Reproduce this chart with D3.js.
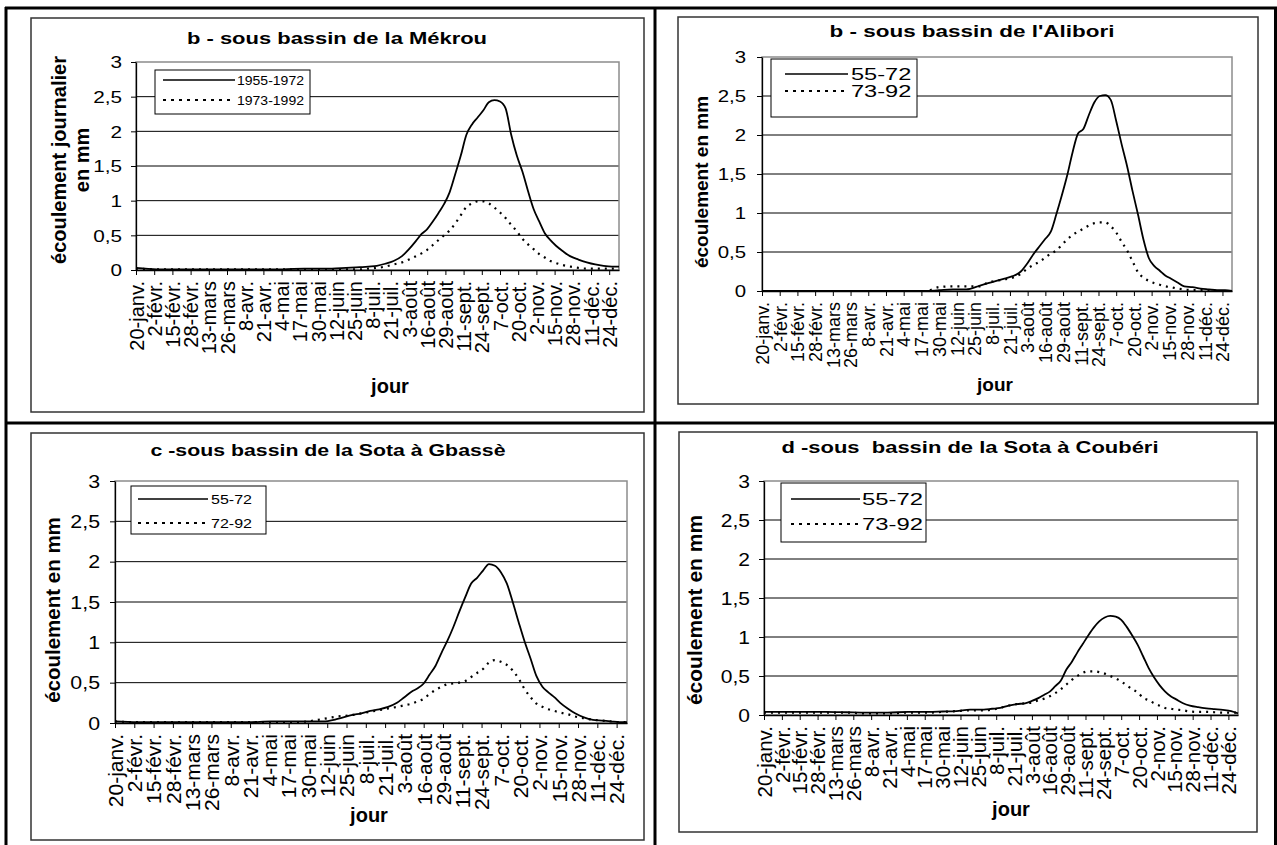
<!DOCTYPE html>
<html><head><meta charset="utf-8">
<script src="https://cdn.jsdelivr.net/npm/d3@7"></script>
<style>
body{margin:0;background:#fff}
svg{display:block}
text{font-family:"Liberation Sans",Arial,sans-serif;fill:#000}
</style>
</head><body>
<svg id="c" width="1277" height="845"></svg>
<script>
// ---------- DATA ----------
const dayGrid = [20,35,50,65,80,95,110,125,140,150,160,170,180,186,192,198,204,210,215,220,224,228,232,236,240,244,248,252,256,260,264,268,272,276,280,284,288,292,296,300,304,308,312,316,320,325,330,336,342,348,354,360,365];

const tickDays = [20,33,46,59,72,85,98,111,124,137,150,163,176,189,202,215,228,241,254,267,280,293,306,319,332,345,358];
const tickLabels = ["20-janv.","2-févr.","15-févr.","28-févr.","13-mars","26-mars","8-avr.","21-avr.","4-mai","17-mai","30-mai","12-juin","25-juin","8-juil.","21-juil.","3-août","16-août","29-août","11-sept.","24-sept.","7-oct.","20-oct.","2-nov.","15-nov.","28-nov.","11-déc.","24-déc."];
const yTicks = [0,0.5,1,1.5,2,2.5,3];

const titles = ["b - sous bassin de la Mékrou","b - sous bassin de l'Alibori","c -sous bassin de la Sota à Gbassè","d -sous  bassin de la Sota à Coubéri"];
const yTitles = [["écoulement journalier","en mm"],["écoulement en mm"],["écoulement en mm"],["écoulement en mm"]];
const legendNames = [["1955-1972","1973-1992"],["55-72","73-92"],["55-72","72-92"],["55-72","73-92"]];

const mekrouA = [0.03,0.01,0.01,0.01,0.01,0.01,0.01,0.01,0.02,0.02,0.02,0.03,0.04,0.05,0.06,0.09,0.13,0.2,0.3,0.42,0.52,0.59,0.7,0.82,0.95,1.12,1.38,1.65,1.95,2.1,2.2,2.3,2.42,2.45,2.43,2.33,1.95,1.65,1.42,1.14,0.88,0.7,0.53,0.43,0.35,0.27,0.2,0.15,0.11,0.08,0.06,0.05,0.05];
const mekrouB = [0.02,0.01,0.01,0.01,0.01,0.01,0.01,0.01,0.01,0.01,0.01,0.01,0.01,0.02,0.03,0.05,0.08,0.11,0.15,0.2,0.24,0.29,0.36,0.43,0.5,0.57,0.67,0.79,0.91,0.96,0.99,0.99,0.96,0.9,0.83,0.75,0.65,0.56,0.45,0.37,0.3,0.23,0.18,0.13,0.1,0.07,0.05,0.03,0.02,0.02,0.02,0.02,0.02];

const aliboriA = [0,0,0,0,0,0,0,0,0,0.01,0.02,0.02,0.07,0.1,0.13,0.16,0.19,0.25,0.36,0.49,0.58,0.67,0.76,0.98,1.22,1.48,1.78,2.02,2.08,2.26,2.42,2.5,2.51,2.45,2.18,1.88,1.6,1.28,0.98,0.66,0.42,0.32,0.26,0.2,0.16,0.11,0.06,0.05,0.03,0.02,0.01,0.01,0];
const aliboriB = [0,0,0,0,0,0,0,0,0,0.05,0.06,0.06,0.06,0.11,0.13,0.15,0.17,0.22,0.29,0.34,0.38,0.43,0.48,0.52,0.59,0.66,0.72,0.76,0.8,0.84,0.87,0.88,0.88,0.83,0.75,0.63,0.52,0.38,0.24,0.17,0.13,0.1,0.08,0.06,0.05,0.03,0.02,0.01,0.01,0.01,0,0,0];

const gbasseA = [0.02,0.01,0.01,0.01,0.01,0.01,0.01,0.02,0.02,0.02,0.02,0.05,0.1,0.12,0.15,0.17,0.2,0.25,0.32,0.39,0.43,0.49,0.6,0.71,0.87,1.02,1.19,1.38,1.56,1.73,1.8,1.89,1.97,1.95,1.87,1.73,1.5,1.25,1.01,0.8,0.58,0.45,0.38,0.32,0.25,0.18,0.12,0.07,0.04,0.03,0.02,0.01,0.01];
const gbasseB = [0.02,0.01,0.01,0.01,0.01,0.01,0.01,0.01,0.01,0.02,0.05,0.08,0.1,0.12,0.14,0.16,0.18,0.2,0.22,0.24,0.27,0.3,0.36,0.41,0.45,0.48,0.49,0.5,0.52,0.57,0.62,0.67,0.75,0.78,0.76,0.72,0.65,0.55,0.42,0.32,0.24,0.2,0.17,0.15,0.13,0.11,0.08,0.06,0.04,0.03,0.02,0.01,0.01];

const couberiA = [0.04,0.04,0.04,0.04,0.035,0.03,0.03,0.04,0.04,0.045,0.05,0.07,0.07,0.08,0.09,0.12,0.14,0.15,0.18,0.22,0.26,0.3,0.37,0.44,0.58,0.68,0.8,0.91,1.02,1.12,1.2,1.25,1.27,1.26,1.22,1.13,1.02,0.9,0.75,0.6,0.48,0.38,0.3,0.24,0.2,0.15,0.12,0.1,0.085,0.075,0.065,0.05,0.02];
const couberiB = [0.03,0.03,0.03,0.03,0.03,0.02,0.02,0.03,0.03,0.04,0.05,0.06,0.06,0.07,0.09,0.12,0.14,0.15,0.16,0.19,0.21,0.24,0.28,0.33,0.39,0.45,0.5,0.54,0.56,0.56,0.55,0.53,0.5,0.47,0.43,0.38,0.33,0.29,0.22,0.19,0.15,0.12,0.09,0.08,0.07,0.06,0.045,0.04,0.04,0.035,0.03,0.03,0.03];

const seriesByPanel = [[mekrouA,mekrouB],[aliboriA,aliboriB],[gbasseA,gbasseB],[couberiA,couberiB]];

// ---------- LAYOUT ----------
const layouts = [
 {box:[31,18,644,412], plot:[136,62,619,270], title:{x:337,y:44,size:17,len:300},
  ylab:{xs:[59,82],cy:160,size:20}, ytk:{size:17,k:1.22,gap:14}, xtk:{size:20,off:11},
  jour:{x:390,y:393,size:20}, leg:{box:[155,70,310,114],lx:[163,235],ly:[80,100],tx:237,size:12.5,k:1.12}},
 {box:[678,17,1258,404], plot:[762,57,1232,291], title:{x:972,y:37,size:17,len:285},
  ylab:{xs:[701],cy:182,size:19}, ytk:{size:17,k:1.2,gap:16}, xtk:{size:18,off:11},
  jour:{x:995,y:391,size:19}, leg:{box:[771,59,917,117],lx:[785,848],ly:[74,91],tx:851,size:16.5,k:1.43}},
 {box:[31,433,644,840], plot:[115,481,627,723], title:{x:328,y:456,size:17,len:355},
  ylab:{xs:[53],cy:610,size:20.5}, ytk:{size:17.5,k:1.22,gap:15}, xtk:{size:21,off:11},
  jour:{x:369,y:822,size:20}, leg:{box:[131,486,266,534],lx:[138,208],ly:[499,523],tx:211,size:12.5,k:1.28}},
 {box:[679,432,1257,832], plot:[764,481,1238,715], title:{x:970,y:453,size:17,len:377},
  ylab:{xs:[695],cy:610,size:21}, ytk:{size:17.5,k:1.2,gap:14}, xtk:{size:20.5,off:11},
  jour:{x:1011,y:816,size:20}, leg:{box:[781,483,926,542],lx:[791,860],ly:[499,524],tx:862,size:17,k:1.4}}
];

const svg = d3.select("#c");

function stretch(sel, k){
  sel.each(function(){
    const w = this.getComputedTextLength();
    this.setAttribute("textLength", w*k);
    this.setAttribute("lengthAdjust","spacingAndGlyphs");
  });
}

// table frame
const frame = svg.append("g").attr("stroke","#000").attr("stroke-width",3).attr("fill","none");
frame.append("line").attr("x1",5).attr("x2",1277).attr("y1",8).attr("y2",8);
frame.append("line").attr("x1",6).attr("x2",6).attr("y1",7).attr("y2",845);
frame.append("line").attr("x1",655).attr("x2",655).attr("y1",7).attr("y2",845);
frame.append("line").attr("x1",5).attr("x2",1277).attr("y1",423).attr("y2",423);
frame.append("line").attr("x1",1275.5).attr("x2",1275.5).attr("y1",7).attr("y2",845);

layouts.forEach((L,pi)=>{
  const g = svg.append("g");
  const [bx0,by0,bx1,by1] = L.box;
  g.append("rect").attr("x",bx0).attr("y",by0).attr("width",bx1-bx0).attr("height",by1-by0)
    .attr("fill","#fff").attr("stroke","#333").attr("stroke-width",1.5);

  const [px0,py0,px1,py1] = L.plot;
  const x = d3.scaleLinear().domain([20,365]).range([px0,px1]);
  const y = d3.scaleLinear().domain([0,3]).range([py1,py0]);

  g.append("g").selectAll("line").data(yTicks.filter(v=>v>0 && v<3)).join("line")
    .attr("x1",px0).attr("x2",px1).attr("y1",d=>y(d)).attr("y2",d=>y(d))
    .attr("stroke","#000").attr("stroke-width",1);
  g.append("rect").attr("x",px0).attr("y",py0).attr("width",px1-px0).attr("height",py1-py0)
    .attr("fill","none").attr("stroke","#8c8c8c").attr("stroke-width",1.5);

  const ya = g.append("g").attr("transform",`translate(${px0},0)`)
    .call(d3.axisLeft(y).tickValues(yTicks).tickSize(5).tickSizeOuter(0)
      .tickFormat(d=>String(d).replace(".",",")));
  ya.select(".domain").attr("stroke","#000").attr("stroke-width",1.3);
  ya.selectAll(".tick line").attr("stroke","#000");
  ya.selectAll("text").attr("font-family",null).attr("font-size",null);
  ya.selectAll(".tick text").attr("x",-L.ytk.gap).attr("dy","0.35em")
    .style("font-size",L.ytk.size+"px").attr("fill","#000").call(stretch,L.ytk.k);

  const xa = g.append("g").attr("transform",`translate(0,${py1})`)
    .call(d3.axisBottom(x).tickValues(tickDays).tickSize(5).tickSizeOuter(0)
      .tickFormat((d,i)=>tickLabels[i]));
  xa.select(".domain").attr("stroke","#000").attr("stroke-width",1.3);
  xa.selectAll(".tick line").attr("stroke","#000");
  xa.selectAll("text").attr("font-family",null).attr("font-size",null);
  xa.selectAll(".tick text").attr("transform","rotate(-90)").attr("text-anchor","end")
    .attr("x",-L.xtk.off).attr("y",0).attr("dy","0.35em")
    .style("font-size",L.xtk.size+"px").attr("fill","#000");

  const [sa,sb] = seriesByPanel[pi];
  const line = d3.line().x((d,i)=>x(dayGrid[i])).y(d=>y(d)).curve(d3.curveMonotoneX);
  g.append("path").datum(sb).attr("d",line).attr("fill","none").attr("stroke","#000")
    .attr("stroke-width",2.2).attr("stroke-dasharray","2,5");
  g.append("path").datum(sa).attr("d",line).attr("fill","none").attr("stroke","#000")
    .attr("stroke-width",1.8).attr("stroke-linejoin","round");

  g.append("text").attr("x",L.title.x).attr("y",L.title.y).attr("text-anchor","middle")
    .style("font-size",L.title.size+"px").style("font-weight","bold").style("white-space","pre")
    .attr("textLength",L.title.len).attr("lengthAdjust","spacingAndGlyphs").text(titles[pi]);

  yTitles[pi].forEach((t,j)=>{
    g.append("text").attr("transform",`translate(${L.ylab.xs[j]},${L.ylab.cy}) rotate(-90)`)
      .attr("text-anchor","middle").attr("dy","0.35em")
      .style("font-size",L.ylab.size+"px").style("font-weight","bold").text(t);
  });

  g.append("text").attr("x",L.jour.x).attr("y",L.jour.y).attr("text-anchor","middle")
    .style("font-size",L.jour.size+"px").style("font-weight","bold").text("jour");

  const lg = L.leg;
  g.append("rect").attr("x",lg.box[0]).attr("y",lg.box[1]).attr("width",lg.box[2]-lg.box[0])
    .attr("height",lg.box[3]-lg.box[1]).attr("fill","#fff").attr("stroke","#000").attr("stroke-width",1);
  legendNames[pi].forEach((nm,j)=>{
    g.append("line").attr("x1",lg.lx[0]).attr("x2",lg.lx[1]).attr("y1",lg.ly[j]).attr("y2",lg.ly[j])
      .attr("stroke","#000").attr("stroke-width",j===0?1.6:2).attr("stroke-dasharray",j===0?null:"3,5");
    g.append("text").attr("x",lg.tx).attr("y",lg.ly[j]).attr("dy","0.36em")
      .style("font-size",lg.size+"px").text(nm).call(stretch,lg.k);
  });
});
</script>
</body></html>
